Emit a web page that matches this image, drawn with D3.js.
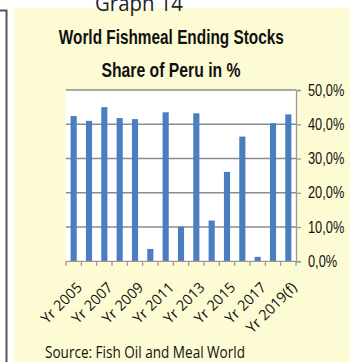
<!DOCTYPE html>
<html>
<head>
<meta charset="utf-8">
<script src="https://cdn.jsdelivr.net/npm/d3@7/dist/d3.min.js"></script>
<style>
  html, body { margin: 0; padding: 0; background: #ffffff; }
  svg { display: block; }
</style>
</head>
<body>
<svg id="chart" width="350" height="362"></svg>
<script>
// ---- data ----
const categories = ["Yr 2005","Yr 2006","Yr 2007","Yr 2008","Yr 2009","Yr 2010","Yr 2011","Yr 2012",
                    "Yr 2013","Yr 2014","Yr 2015","Yr 2016","Yr 2017","Yr 2018","Yr 2019(f)"];
const peruShare = [42.4, 41.0, 45.0, 41.8, 41.5, 3.6, 43.5, 10.1, 43.2, 11.9, 26.1, 36.4, 1.3, 40.3, 42.9];
const yTicks = [0, 10, 20, 30, 40, 50];
const yTickLabels = ["0,0%","10,0%","20,0%","30,0%","40,0%","50,0%"];
const shownLabels = ["Yr 2005","Yr 2007","Yr 2009","Yr 2011","Yr 2013","Yr 2015","Yr 2017","Yr 2019(f)"];
const pageTitle = "Graph 14";
const titleLines = ["World Fishmeal Ending Stocks", "Share of Peru in %"];
const sourceText = "Source: Fish Oil and Meal World";

// ---- layout ----
const svg = d3.select("#chart");
const plot = { left: 66, right: 296, top: 90, bottom: 261.3 };

// frame on the left (edge of neighbouring box)
svg.append("path")
  .attr("d", "M0,10.5 H6.5 V362")
  .attr("fill", "none").attr("stroke", "#555").attr("stroke-width", 2);

// yellow panel
svg.append("rect").attr("x", 14).attr("y", 8).attr("width", 336).attr("height", 354)
  .attr("fill", "#fdfbd3");

// page heading (cut at top)
svg.append("text").attr("x", 139).attr("y", 10.5)
  .attr("text-anchor", "middle")
  .style("font-family", "'Open Sans', sans-serif").style("font-size", "22px")
  .attr("textLength", 88).attr("lengthAdjust", "spacingAndGlyphs")
  .attr("fill", "#222").text(pageTitle);

// titles
const titleFont = "'Liberation Sans Narrow', 'Liberation Sans', sans-serif";
svg.append("text").attr("x", 171.3).attr("y", 43.5).attr("text-anchor", "middle")
  .style("font-family", titleFont).style("font-weight", "bold").style("font-size", "20.5px")
  .attr("textLength", 225).attr("lengthAdjust", "spacingAndGlyphs")
  .attr("fill", "#111").text(titleLines[0]);
svg.append("text").attr("x", 171).attr("y", 76.5).attr("text-anchor", "middle")
  .style("font-family", titleFont).style("font-weight", "bold").style("font-size", "20.5px")
  .attr("textLength", 139).attr("lengthAdjust", "spacingAndGlyphs")
  .attr("fill", "#111").text(titleLines[1]);

// scales
const x = d3.scaleBand().domain(categories).range([plot.left, plot.right])
  .paddingInner(0.6).paddingOuter(0.3);
const xSlot = d3.scaleBand().domain(categories).range([plot.left, plot.right]).padding(0);
const y = d3.scaleLinear().domain([0, 50]).range([plot.bottom, plot.top]);

// plot area
svg.append("rect").attr("x", plot.left).attr("y", plot.top)
  .attr("width", plot.right - plot.left).attr("height", plot.bottom - plot.top)
  .attr("fill", "#ffffff");

// gridlines
svg.append("g").selectAll("line").data(yTicks.filter(d => d > 0)).join("line")
  .attr("x1", plot.left).attr("x2", plot.right)
  .attr("y1", d => y(d)).attr("y2", d => y(d))
  .attr("stroke", "#8c8c8c").attr("stroke-width", 1.6);

// bars
svg.append("g").selectAll("rect").data(peruShare).join("rect")
  .attr("x", (d, i) => x(categories[i]))
  .attr("width", x.bandwidth())
  .attr("y", d => y(d))
  .attr("height", d => y(0) - y(d))
  .attr("fill", "#4a7ebf");

// right axis
const yAxis = d3.axisRight(y).tickValues(yTicks).tickSize(5).tickPadding(7)
  .tickFormat((d, i) => yTickLabels[i]);
const gy = svg.append("g").attr("transform", `translate(${plot.right},0)`).call(yAxis);
gy.select(".domain").attr("stroke", "#9a9a9a").attr("stroke-width", 1.3);
gy.selectAll(".tick line").attr("stroke", "#9a9a9a").attr("stroke-width", 1.3);
gy.selectAll(".tick text")
  .style("font-family", titleFont).style("font-size", "16px").attr("fill", "#111")
  .each(function () {
    const w = this.getComputedTextLength();
    d3.select(this).attr("textLength", w * 0.8).attr("lengthAdjust", "spacingAndGlyphs");
  });

// bottom axis (ticks at category boundaries)
const boundaries = categories.map(c => xSlot(c)).concat([plot.right]);
svg.append("line").attr("x1", plot.left).attr("x2", plot.right)
  .attr("y1", plot.bottom).attr("y2", plot.bottom)
  .attr("stroke", "#9a9a9a").attr("stroke-width", 1.3);
svg.append("g").selectAll("line").data(boundaries).join("line")
  .attr("x1", d => d).attr("x2", d => d)
  .attr("y1", plot.bottom).attr("y2", plot.bottom + 4.5)
  .attr("stroke", "#9a9a9a").attr("stroke-width", 1.3);

// category labels (every other)
svg.append("g").selectAll("text").data(shownLabels).join("text")
  .attr("transform", d => `translate(${x(d) + x.bandwidth() / 2 + 2},${281}) rotate(-45)`)
  .attr("text-anchor", "end").attr("dy", "0.72em")
  .style("font-family", "'Open Sans', sans-serif").style("font-size", "14.5px")
  .attr("fill", "#111").text(d => d);

// source
svg.append("text").attr("x", 45).attr("y", 357.5)
  .style("font-family", "'Open Sans', sans-serif").style("font-size", "16px")
  .attr("textLength", 200).attr("lengthAdjust", "spacingAndGlyphs")
  .attr("fill", "#111").text(sourceText);
</script>
</body>
</html>
